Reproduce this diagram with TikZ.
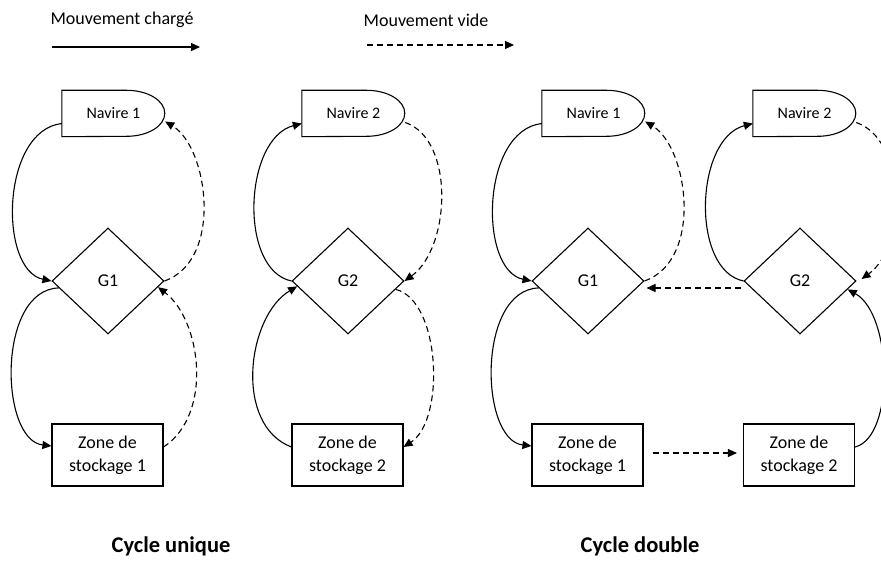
\documentclass[tikz,border=0pt]{standalone}
\usepackage{fontspec}
\setmainfont{Carlito}
\usetikzlibrary{shapes.geometric,arrows.meta}
\newcommand\navshape[1]{\draw[shp] (#1.north west) -- ++(65,0) arc[start angle=90,end angle=-90,x radius=38,y radius=23] -- (#1.south west) -- cycle;}
\begin{document}
\begin{tikzpicture}[x=1pt,y=1pt,
  shp/.style={line width=1.1pt},
  navire/.style={minimum width=103pt,minimum height=46pt,inner sep=0pt,font=\fontsize{16}{19}\selectfont},
  gate/.style={diamond,draw,line width=1.1pt,minimum width=112pt,minimum height=106pt,inner sep=0pt,font=\fontsize{18}{21}\selectfont},
  zone/.style={rectangle,draw,line width=1.1pt,minimum width=111pt,minimum height=62pt,inner sep=0pt,align=center,font=\fontsize{18}{23}\selectfont},
  ld/.style={line width=1.1pt,-{Triangle[length=9pt,width=8pt]}},
  ed/.style={line width=1.1pt,dash pattern=on 6pt off 4pt,-{Triangle[length=9pt,width=8pt]}},
  lbl/.style={font=\fontsize{18}{21}\selectfont,inner sep=0pt},
  ttl/.style={font=\fontsize{22.5}{26}\selectfont\bfseries,inner sep=0pt}]
\useasboundingbox (0,0) rectangle (881,-561);
\clip (0,0) rectangle (881,-561);

% legend
\node[lbl] (lgc) at (122,-20) {Mouvement chargé};
\node[lbl] (lgv) at (426,-20) {Mouvement vide};
\coordinate (ls1) at (52,-47);
\coordinate (ls2) at (200,-47);
\coordinate (lv1) at (367,-45);
\coordinate (lv2) at (514,-45);
\draw[ld] (ls1) -- (ls2);
\draw[ed] (lv1) -- (lv2);

% nodes
\node[navire] (n1) at (113.5,-113.5) {Navire 1\hspace{21pt}};
\node[navire] (n2) at (353.5,-113.5) {Navire 2\hspace{21pt}};
\node[navire] (n3) at (593.5,-113.5) {Navire 1\hspace{21pt}};
\node[navire] (n4) at (804.5,-113.5) {Navire 2\hspace{21pt}};
\navshape{n1}\navshape{n2}\navshape{n3}\navshape{n4}

\node[gate] (g1) at (108,-281) {G1};
\node[gate] (g2) at (348,-281) {G2};
\node[gate] (g3) at (588,-281) {G1};
\node[gate] (g4) at (800,-281) {G2};

\node[zone] (z1) at (107.5,-455) {Zone de\\stockage 1};
\node[zone] (z2) at (347.5,-455) {Zone de\\stockage 2};
\node[zone] (z3) at (587.5,-455) {Zone de\\stockage 1};
\node[zone] (z4) at (799,-455) {Zone de\\stockage 2};

% cycle unique 1
\draw[ld] ([yshift=-10pt]n1.west) .. controls +(-61,-7) and +(-53,11) .. (g1.west);
\draw[ld] (g1.188) .. controls +(-62,-2) and +(-52,6) .. ([yshift=9pt]z1.west);
\draw[ed] (g1.east) .. controls +(59,21) and +(43,-26) .. ([yshift=-8pt]n1.east);
\draw[ed] ([yshift=8pt]z1.east) .. controls +(50,33) and +(43,-33) .. (g1.353);

% cycle unique 2
\draw[ld] (g2.west) .. controls +(-53,11) and +(-58,-15) .. ([yshift=-10pt]n2.west);
\draw[ld] ([yshift=8pt]z2.west) .. controls +(-58,22) and +(-50,-30) .. (g2.186);
\draw[ed] ([yshift=-9pt]n2.east) .. controls +(50,-17) and +(46,33) .. (g2.east);
\draw[ed] (g2.350) .. controls +(45,-11) and +(42,27) .. ([yshift=8pt]z2.east);

% cycle double
\draw[ld] ([yshift=-10pt]n3.west) .. controls +(-61,-7) and +(-53,11) .. (g3.west);
\draw[ld] (g3.188) .. controls +(-62,-2) and +(-52,6) .. ([yshift=9pt]z3.west);
\draw[ed] (g3.east) .. controls +(59,21) and +(43,-26) .. ([yshift=-8pt]n3.east);

\draw[ld] (g4.west) .. controls +(-53,11) and +(-58,-15) .. ([yshift=-10pt]n4.west);
\draw[ed] ([yshift=-9pt]n4.east) .. controls +(50,-17) and +(46,33) .. ([xshift=5pt,yshift=2pt]g4.east);
\draw[ld] ([yshift=8pt]z4.east) .. controls +(40,10) and +(45,-25) .. (g4.350);

\draw[ed] ([xshift=-2pt,yshift=-7pt]g4.west) -- ([xshift=2pt,yshift=-7pt]g3.east);
\draw[ed] ([xshift=9pt,yshift=2pt]z3.east) -- ([xshift=-6pt,yshift=2pt]z4.west);

% titles
\node[ttl] (t1) at (171,-546) {Cycle unique};
\node[ttl] (t2) at (640,-546) {Cycle double};
\end{tikzpicture}
\end{document}
